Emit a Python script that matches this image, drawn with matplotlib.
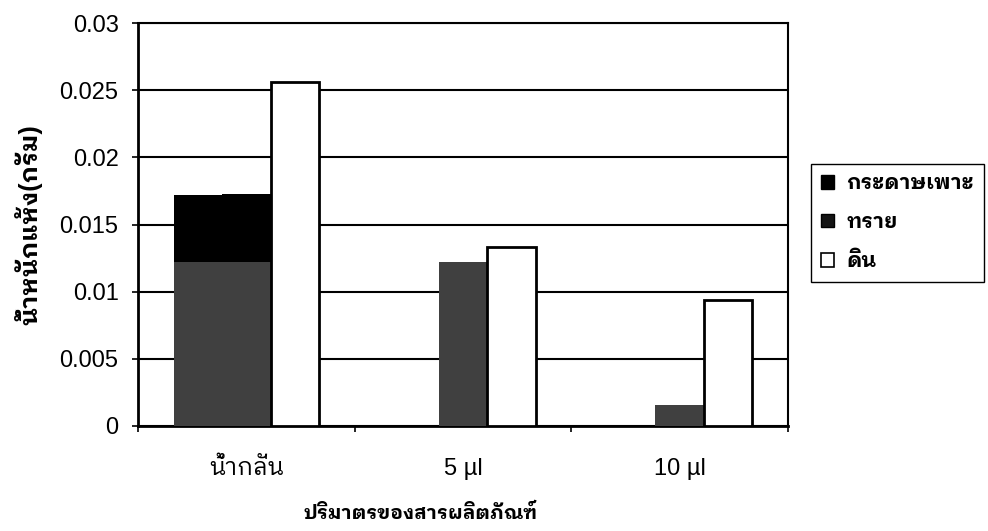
import matplotlib
matplotlib.use("Agg")
import matplotlib.pyplot as plt
import numpy as np
from matplotlib.patches import Patch

# Dry weight (grams) by amount of product
categories = ["น้ำกลั่น", "5 µl", "10 µl"]
series_names = ["กระดาษเพาะ", "ทราย", "ดิน"]
paper = [0.0172, 0.0, 0.0]
sand = [0.0173, 0.0122, 0.0016]
soil = [0.0256, 0.0133, 0.0094]
yticks = [0, 0.005, 0.01, 0.015, 0.02, 0.025, 0.03]
ytick_labels = ["0", "0.005", "0.01", "0.015", "0.02", "0.025", "0.03"]
ylabel = "น้ำหนักแห้ง(กรัม)"
xlabel = "ปริมาตรของสารผลิตภัณฑ์"

FONT = ["Liberation Sans", "IBM Plex Sans Thai Looped", "Noto Sans Thai", "DejaVu Sans"]
plt.rcParams["font.family"] = FONT

W, H = 988, 531
fig = plt.figure(figsize=(W / 100, H / 100), dpi=100)
fig.patch.set_facecolor("white")

left, right, top, bottom = 138, 788, 23, 426
ax = fig.add_axes([left / W, 1 - bottom / H, (right - left) / W, (bottom - top) / H])

x = np.arange(len(categories))
bw = 0.2235
dark_hi = "#000000"
dark_lo = "#404040"
tone_split = 0.0122  # lower part of dark fills prints in a lighter tone


def dark_bars(xpos, vals):
    vals = np.asarray(vals, dtype=float)
    lower = np.minimum(vals, tone_split)
    upper = np.clip(vals - tone_split, 0, None)
    ax.bar(xpos, lower, width=bw, color=dark_lo, linewidth=0, zorder=3)
    ax.bar(xpos, upper, width=bw, bottom=tone_split, color=dark_hi,
           linewidth=0, zorder=3)


dark_bars(x - bw, paper)
dark_bars(x, sand)
ax.bar(x + bw, soil, width=bw, color="white", edgecolor="black", linewidth=2.0, zorder=3)

ax.set_xlim(-0.5, len(categories) - 0.5)
ax.set_ylim(0, 0.03)

ax.set_yticks(yticks)
ax.set_yticklabels(ytick_labels)
ax.yaxis.grid(True, color="black", linewidth=1.5, zorder=0)
ax.set_axisbelow(True)

ax.set_xticks(np.arange(-0.5, len(categories), 1.0))
ax.set_xticklabels([])
ax.set_xticks(x, minor=True)
ax.set_xticklabels(categories, minor=True)

ax.tick_params(axis="y", direction="out", length=4, width=1.2, pad=10,
               labelsize=17, colors="black")
ax.tick_params(axis="x", which="major", direction="out", length=4, width=1.2)
ax.tick_params(axis="x", which="minor", length=0, pad=23, labelsize=17)

for side in ["left", "right", "top", "bottom"]:
    ax.spines[side].set_color("black")
ax.spines["left"].set_linewidth(2.0)
ax.spines["bottom"].set_linewidth(2.0)
ax.spines["right"].set_linewidth(1.5)
ax.spines["top"].set_linewidth(1.5)

fig.text(28 / W, 1 - 225 / H, ylabel, rotation=90, ha="center", va="center",
         fontsize=18, fontweight="bold", family=FONT)
fig.text(421 / W, 1 - 513 / H, xlabel, ha="center", va="center",
         fontsize=14, fontweight="bold", family=FONT)

handles = [
    Patch(facecolor="black", edgecolor="black"),
    Patch(facecolor="#141414", edgecolor="black"),
    Patch(facecolor="white", edgecolor="black", linewidth=1.2),
]
leg = fig.legend(handles, series_names, loc="upper left",
                 bbox_to_anchor=(811 / W, 1 - 164 / H),
                 prop={"family": FONT, "size": 15, "weight": "bold"},
                 frameon=True, fancybox=False, framealpha=1, edgecolor="black",
                 handlelength=0.6, handleheight=0.6, handletextpad=0.6,
                 labelspacing=0.95, borderpad=0.5, borderaxespad=0)
leg.get_frame().set_linewidth(1.0)

fig.savefig("out.png", dpi=100, facecolor="white")
